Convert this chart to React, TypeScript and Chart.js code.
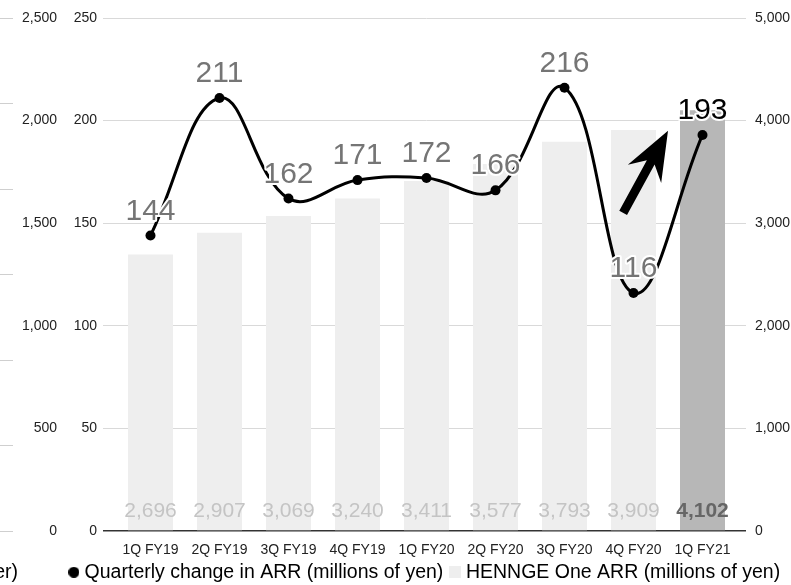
import React, { useEffect, useRef } from 'react';
import { Chart, registerables } from 'chart.js';

Chart.register(...registerables);

// Quarter categories along the x axis
const quarters = ['1Q FY19', '2Q FY19', '3Q FY19', '4Q FY19', '1Q FY20', '2Q FY20', '3Q FY20', '4Q FY20', '1Q FY21'];
// Quarter-on-quarter change in ARR (left axis)
const arrChange = [144, 211, 162, 171, 172, 166, 216, 116, 193];
// Total HENNGE One ARR (right axis)
const arrTotal = [2696, 2907, 3069, 3240, 3411, 3577, 3793, 3909, 4102];

const lineLabel = 'Quarterly change in ARR (millions of yen)';
const barLabel = 'HENNGE One ARR (millions of yen)';
// tail of the neighbouring panel's legend, visible at the left edge
const neighbourLegendTail = 'er)';

// Upward arrow next to the latest quarter, in data units (category index, change value)
const arrowFrom = [6.85, 155];
const arrowTo = [7.5, 195];

const FONT = '"Liberation Sans", Arial, Helvetica, sans-serif';
const GRID = '#d9d9d9';
const BASE = '#333333';
const BAR = '#eeeeee';
const BAR_LATEST = '#b7b7b7';

const barColors = arrTotal.map((_, i) => (i === arrTotal.length - 1 ? BAR_LATEST : BAR));

function marker(kind: 'circle' | 'square', color: string, size: number): HTMLCanvasElement {
  const c = document.createElement('canvas');
  c.width = size;
  c.height = size;
  const g = c.getContext('2d')!;
  g.fillStyle = color;
  if (kind === 'circle') {
    g.beginPath();
    g.arc(size / 2, size / 2, size / 2, 0, Math.PI * 2);
    g.fill();
  } else {
    g.fillRect(0, 0, size, size);
  }
  return c;
}

const valueLabels = {
  id: 'valueLabels',
  afterDatasetsDraw(chart: any) {
    const ctx = chart.ctx;
    const last = quarters.length - 1;
    ctx.save();
    // ARR totals written near the foot of each bar
    const barMeta = chart.getDatasetMeta(1);
    const base = chart.scales.y1.getPixelForValue(0);
    ctx.textAlign = 'center';
    ctx.textBaseline = 'middle';
    barMeta.data.forEach((bar: any, i: number) => {
      ctx.font = `${i === last ? 'bold ' : ''}21px ${FONT}`;
      ctx.fillStyle = i === last ? '#666666' : '#c4c4c4';
      ctx.fillText(arrTotal[i].toLocaleString('en-US'), bar.x, base - 20);
    });

    // arrow pointing up to the latest quarter
    const xs = chart.scales.x;
    const ys = chart.scales.y;
    const tx = xs.getPixelForValue(arrowFrom[0]);
    const ty = ys.getPixelForValue(arrowFrom[1]);
    const hx = xs.getPixelForValue(arrowTo[0]);
    const hy = ys.getPixelForValue(arrowTo[1]);
    const len = Math.hypot(hx - tx, hy - ty);
    const ux = (hx - tx) / len;
    const uy = (hy - ty) / len;
    const nx = -uy;
    const ny = ux;
    const shaft = 4.4;
    const headLen = 49;
    const headHalf = 19;
    const notch = 36;
    const at = (back: number, side: number) => [hx - ux * back + nx * side, hy - uy * back + ny * side];
    const pts = [
      at(0, 0),
      at(headLen, headHalf),
      at(notch, shaft),
      at(len, shaft),
      at(len, -shaft),
      at(notch, -shaft),
      at(headLen, -headHalf),
    ];
    ctx.beginPath();
    pts.forEach((p, i) => (i === 0 ? ctx.moveTo(p[0], p[1]) : ctx.lineTo(p[0], p[1])));
    ctx.closePath();
    ctx.fillStyle = '#000000';
    ctx.fill();

    // change values above each point of the line
    const lineMeta = chart.getDatasetMeta(0);
    ctx.font = `30px ${FONT}`;
    ctx.textBaseline = 'alphabetic';
    ctx.lineJoin = 'round';
    lineMeta.data.forEach((pt: any, i: number) => {
      const txt = String(arrChange[i]);
      ctx.lineWidth = 4;
      ctx.strokeStyle = '#ffffff';
      ctx.strokeText(txt, pt.x, pt.y - 16);
      ctx.fillStyle = i === last ? '#000000' : '#757575';
      ctx.fillText(txt, pt.x, pt.y - 16);
    });
    ctx.restore();
  },
};

const neighbourText = {
  id: 'neighbourText',
  afterDraw(chart: any) {
    const lg = chart.legend;
    if (!lg || !lg.legendHitBoxes || !lg.legendHitBoxes.length) return;
    const hb = lg.legendHitBoxes[0];
    const ctx = chart.ctx;
    ctx.save();
    ctx.font = `19.5px ${FONT}`;
    ctx.fillStyle = '#000000';
    ctx.textAlign = 'right';
    ctx.textBaseline = 'middle';
    ctx.fillText(neighbourLegendTail, 18, hb.top + hb.height / 2);
    ctx.restore();
  },
};

export default function App() {
  const ref = useRef<HTMLCanvasElement | null>(null);

  useEffect(() => {
    if (!ref.current) return;
    const dot = marker('circle', '#000000', 11);
    const square = marker('square', BAR, 12);
    const zeroColor = (c: any) => (c.tick && c.tick.value === 0 ? BASE : GRID);
    const zeroWidth = (c: any) => (c.tick && c.tick.value === 0 ? 1.5 : 1);

    const chart = new Chart(ref.current, {
      type: 'bar',
      data: {
        labels: quarters,
        datasets: [
          {
            type: 'line',
            label: lineLabel,
            data: arrChange,
            yAxisID: 'y',
            borderColor: '#000000',
            borderWidth: 3,
            backgroundColor: '#000000',
            pointBackgroundColor: '#000000',
            pointBorderWidth: 0,
            pointRadius: 5,
            tension: 0.4,
            order: 0,
          } as any,
          {
            type: 'bar',
            label: barLabel,
            data: arrTotal,
            yAxisID: 'y1',
            backgroundColor: barColors,
            categoryPercentage: 1,
            barPercentage: 0.652,
            order: 1,
          },
        ],
      },
      options: {
        responsive: false,
        animation: false,
        events: [],
        layout: { padding: { top: 18, bottom: -7, left: 0, right: 0 } },
        font: { family: FONT },
        plugins: {
          tooltip: { enabled: false },
          legend: {
            position: 'bottom',
            align: 'end',
            labels: {
              usePointStyle: true,
              boxWidth: 2,
              boxHeight: 12,
              padding: 0,
              color: '#000000',
              font: { family: FONT, size: 19.5 },
              generateLabels: (ch: any) => {
                const items = Chart.defaults.plugins.legend.labels.generateLabels(ch);
                return items.map((it: any) => ({
                  ...it,
                  // trailing room after each entry
                  text: it.text + '  ',
                  pointStyle: it.datasetIndex === 0 ? dot : square,
                  fillStyle: it.datasetIndex === 0 ? '#000000' : BAR,
                  strokeStyle: 'transparent',
                  lineWidth: 0,
                }));
              },
            },
          },
        },
        scales: {
          x: {
            grid: { display: false, drawTicks: false },
            border: { display: false },
            ticks: { color: '#222222', font: { family: FONT, size: 14 }, padding: 11, maxRotation: 0, autoSkip: false },
            afterFit: (s: any) => {
              s.height = 31.5;
            },
          },
          y: {
            position: 'left',
            weight: 0,
            min: 0,
            max: 250,
            border: { display: false },
            grid: { color: zeroColor, lineWidth: zeroWidth, tickLength: 13 },
            ticks: { stepSize: 50, color: '#222222', font: { family: FONT, size: 14 }, padding: 6 },
            afterFit: (s: any) => {
              s.width = 56;
            },
          },
          y1: {
            position: 'right',
            min: 0,
            max: 5000,
            border: { display: false },
            grid: { drawOnChartArea: false, color: zeroColor, lineWidth: zeroWidth, tickLength: 9 },
            ticks: { stepSize: 1000, color: '#222222', font: { family: FONT, size: 14 }, padding: 9 },
            afterFit: (s: any) => {
              s.width = 54;
            },
          },
          yOuter: {
            position: 'left',
            weight: 1,
            min: 0,
            max: 2500,
            border: { display: false },
            grid: { display: false, drawTicks: false },
            ticks: { stepSize: 500, color: '#222222', font: { family: FONT, size: 14 }, padding: 3 },
            afterFit: (s: any) => {
              s.width = 47;
            },
          },
          yEdge: {
            position: 'left',
            weight: 2,
            min: 0,
            max: 6,
            border: { display: false },
            grid: { drawOnChartArea: false, color: '#cfcfcf', tickLength: 13 },
            ticks: { stepSize: 1, display: false },
            afterFit: (s: any) => {
              s.width = 13;
            },
          },
        },
      } as any,
      plugins: [valueLabels, neighbourText],
    });
    return () => chart.destroy();
  }, []);

  return (
    <div style={{ position: 'absolute', left: 0, top: 0, width: 791, height: 585, background: '#ffffff' }}>
      <canvas ref={ref} width={791} height={585} style={{ display: 'block' }} />
    </div>
  );
}
